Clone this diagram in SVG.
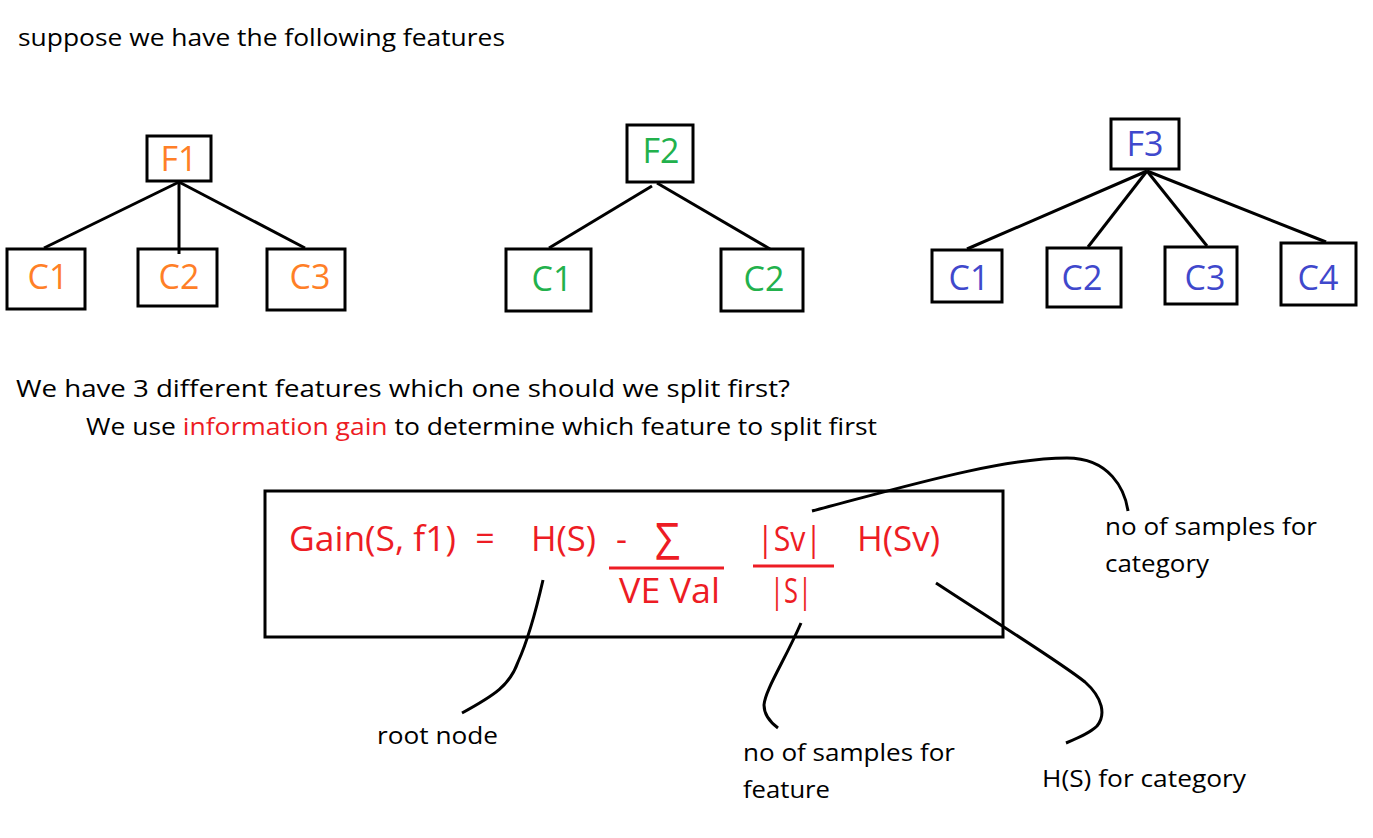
<svg xmlns="http://www.w3.org/2000/svg" width="1373" height="838" viewBox="0 0 1373 838">
<style>
.box{fill:none;stroke:#000;stroke-width:3}
.ln{fill:none;stroke:#000;stroke-width:3}
.t{font-family:"Open Sans","Liberation Sans",sans-serif;font-size:24px;fill:#000}
.lab{font-family:"Open Sans","Liberation Sans",sans-serif;font-size:34px;text-anchor:middle}
.o{fill:#FF7F27}.g{fill:#22B14C}.b{fill:#3F48CC}
.r{font-family:"Open Sans","Liberation Sans",sans-serif;font-size:34px;fill:#ED1C24}
.rl{stroke:#ED1C24;stroke-width:3}
</style>
<rect width="1373" height="838" fill="#fff"/>
<text class="t" x="18" y="46" textLength="487" lengthAdjust="spacingAndGlyphs">suppose we have the following features</text>
<g id="connectors">
<line class="ln" x1="179" y1="182" x2="44" y2="248"/>
<line class="ln" x1="179" y1="182" x2="179" y2="254"/>
<line class="ln" x1="179" y1="182" x2="305" y2="248"/>
<line class="ln" x1="652" y1="186" x2="549" y2="248"/>
<line class="ln" x1="657" y1="183" x2="770" y2="249"/>
<line class="ln" x1="1147" y1="171" x2="967" y2="249"/>
<line class="ln" x1="1147" y1="171" x2="1088" y2="247"/>
<line class="ln" x1="1147" y1="171" x2="1207" y2="246"/>
<line class="ln" x1="1147" y1="171" x2="1326" y2="242"/>
</g>
<g id="F1"><rect class="box" x="147" y="136" width="64" height="45"/><text class="lab o" x="179" y="171">F1</text></g>
<g id="F1C1"><rect class="box" x="7" y="249" width="78" height="60"/><text class="lab o" x="48" y="289">C1</text></g>
<g id="F1C2"><rect class="box" x="138" y="249" width="79" height="57"/><text class="lab o" x="179" y="289">C2</text></g>
<g id="F1C3"><rect class="box" x="267" y="249" width="78" height="61"/><text class="lab o" x="310" y="289">C3</text></g>
<g id="F2"><rect class="box" x="627" y="125" width="66" height="57"/><text class="lab g" x="661" y="163">F2</text></g>
<g id="F2C1"><rect class="box" x="506" y="249" width="85" height="62"/><text class="lab g" x="552" y="291">C1</text></g>
<g id="F2C2"><rect class="box" x="721" y="249" width="82" height="62"/><text class="lab g" x="764" y="291">C2</text></g>
<g id="F3"><rect class="box" x="1111" y="119" width="68" height="50"/><text class="lab b" x="1145" y="156">F3</text></g>
<g id="F3C1"><rect class="box" x="932" y="250" width="70" height="52"/><text class="lab b" x="969" y="290">C1</text></g>
<g id="F3C2"><rect class="box" x="1047" y="248" width="74" height="59"/><text class="lab b" x="1082" y="290">C2</text></g>
<g id="F3C3"><rect class="box" x="1165" y="247" width="72" height="57"/><text class="lab b" x="1205" y="290">C3</text></g>
<g id="F3C4"><rect class="box" x="1281" y="243" width="75" height="62"/><text class="lab b" x="1318" y="290">C4</text></g>
<text class="t" x="16" y="397" textLength="774" lengthAdjust="spacingAndGlyphs">We have 3 different features which one should we split first?</text>
<text class="t" x="86" y="435" textLength="791" lengthAdjust="spacingAndGlyphs">We use <tspan fill="#ED1C24">information gain</tspan> to determine which feature to split first</text>
<g id="formula">
<rect class="box" x="265" y="491" width="738" height="146"/>
<text class="r" x="289" y="551" textLength="167" lengthAdjust="spacingAndGlyphs">Gain(S, f1)</text>
<text class="r" x="485" y="551" text-anchor="middle">=</text>
<text class="r" x="531" y="551" textLength="65" lengthAdjust="spacingAndGlyphs">H(S)</text>
<text class="r" x="616" y="551" textLength="11" lengthAdjust="spacingAndGlyphs">-</text>
<text class="r" x="655" y="560" style="font-size:52px" textLength="25" lengthAdjust="spacingAndGlyphs">Σ</text>
<line class="rl" x1="609" y1="568" x2="724" y2="568"/>
<text class="r" x="619" y="603" textLength="101" lengthAdjust="spacingAndGlyphs">VE Val</text>
<text class="r" x="757" y="551" textLength="65" lengthAdjust="spacingAndGlyphs">|Sv|</text>
<line class="rl" x1="753" y1="566" x2="834" y2="566"/>
<text class="r" x="770" y="603" textLength="42" lengthAdjust="spacingAndGlyphs">|S|</text>
<text class="r" x="857" y="551" textLength="83" lengthAdjust="spacingAndGlyphs">H(Sv)</text>
</g>
<g id="annotations">
<path class="ln" d="M812,511 C900,488 1000,458 1067,458 C1110,458 1125,490 1128,511"/>
<path class="ln" d="M543,580 C535,615 528,640 518,662 C510,685 495,695 462,713"/>
<path class="ln" d="M801,623 C785,660 765,690 764,705 C764,715 770,722 778,728"/>
<path class="ln" d="M936,583 C1000,625 1060,662 1085,682 C1103,698 1106,715 1097,726 C1090,733 1078,738 1066,743"/>
<text class="t" x="1105" y="535" textLength="212" lengthAdjust="spacingAndGlyphs">no of samples for</text>
<text class="t" x="1105" y="572" textLength="104" lengthAdjust="spacingAndGlyphs">category</text>
<text class="t" x="377" y="744" textLength="121" lengthAdjust="spacingAndGlyphs">root node</text>
<text class="t" x="743" y="761" textLength="212" lengthAdjust="spacingAndGlyphs">no of samples for</text>
<text class="t" x="743" y="798" textLength="87" lengthAdjust="spacingAndGlyphs">feature</text>
<text class="t" x="1042" y="787" textLength="204" lengthAdjust="spacingAndGlyphs">H(S) for category</text>
</g>
</svg>
